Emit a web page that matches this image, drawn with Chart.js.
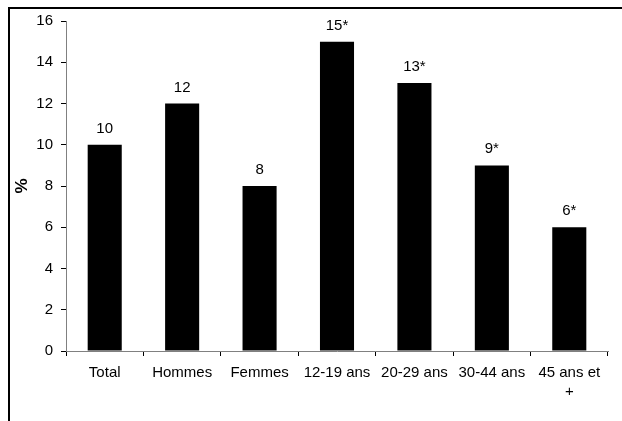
<!DOCTYPE html>
<html>
<head>
<meta charset="utf-8">
<script src="https://cdn.jsdelivr.net/npm/chart.js@4"></script>
<style>
  html, body { margin: 0; padding: 0; background: #fff; }
  #wrap { width: 622px; height: 421px; position: relative; }
</style>
</head>
<body>
<div id="wrap"><canvas id="mycanvas" width="622" height="421"></canvas></div>
<script>
var categories = ['Total', 'Hommes', 'Femmes', '12-19 ans', '20-29 ans', '30-44 ans', ['45 ans et', '+']];
var values = [10, 12, 8, 15, 13, 9, 6];
var valueLabels = ['10', '12', '8', '15*', '13*', '9*', '6*'];
var yTicks = [0, 2, 4, 6, 8, 10, 12, 14, 16];

var FONT = 'Liberation Sans, Arial, sans-serif';

// frame around the picture (top and left only, the rest is cut off)
var framePlugin = {
	id: 'frame',
	beforeDraw: function(chart) {
		var c = chart.ctx;
		c.save();
		c.fillStyle = '#fff';
		c.fillRect(0, 0, chart.width, chart.height);
		c.fillStyle = '#000';
		c.fillRect(8, 7, chart.width - 8, 2);
		c.fillRect(8, 7, 2, chart.height - 7);
		c.restore();
	}
};

// value labels above the bars
var labelPlugin = {
	id: 'valueLabels',
	afterDatasetsDraw: function(chart) {
		var c = chart.ctx;
		var meta = chart.getDatasetMeta(0);
		c.save();
		c.font = '15px ' + FONT;
		c.fillStyle = '#000';
		c.textAlign = 'center';
		c.textBaseline = 'alphabetic';
		meta.data.forEach(function(bar, i) {
			c.fillText(valueLabels[i], bar.x, bar.y - 12);
		});
		c.restore();
	}
};

var ctx = document.getElementById('mycanvas');

var barGraph = new Chart(ctx, {
	type: 'bar',
	data: {
		labels: categories,
		datasets: [{
			data: values,
			backgroundColor: '#000',
			borderWidth: 0,
			categoryPercentage: 1,
			barPercentage: 0.44
		}]
	},
	options: {
		responsive: false,
		animation: false,
		layout: { padding: { left: 0, right: 14, top: 21, bottom: 0 } },
		plugins: {
			legend: { display: false },
			tooltip: { enabled: false }
		},
		scales: {
			x: {
				afterFit: function(scale) { scale.height = 70; },
				grid: { drawOnChartArea: false, drawTicks: true, tickLength: 5, color: '#000', offset: true },
				border: { color: '#808080', width: 1 },
				ticks: {
					color: '#000',
					font: { family: FONT, size: 15, lineHeight: 1.27 },
					padding: 7,
					maxRotation: 0,
					autoSkip: false
				}
			},
			y: {
				min: 0,
				max: 16,
				afterFit: function(scale) { scale.width = 66; },
				afterBuildTicks: function(scale) {
					scale.ticks = yTicks.map(function(v) { return { value: v }; });
				},
				grid: { drawOnChartArea: false, drawTicks: true, tickLength: 5, color: '#000' },
				border: { color: '#808080', width: 1 },
				ticks: {
					color: '#000',
					font: { family: FONT, size: 15 },
					padding: 8
				},
				title: {
					display: true,
					text: '%',
					color: '#000',
					font: { family: FONT, size: 17, weight: 'bold' },
					padding: { top: 12, bottom: 0 }
				}
			}
		}
	},
	plugins: [framePlugin, labelPlugin]
});
</script>
</body>
</html>
